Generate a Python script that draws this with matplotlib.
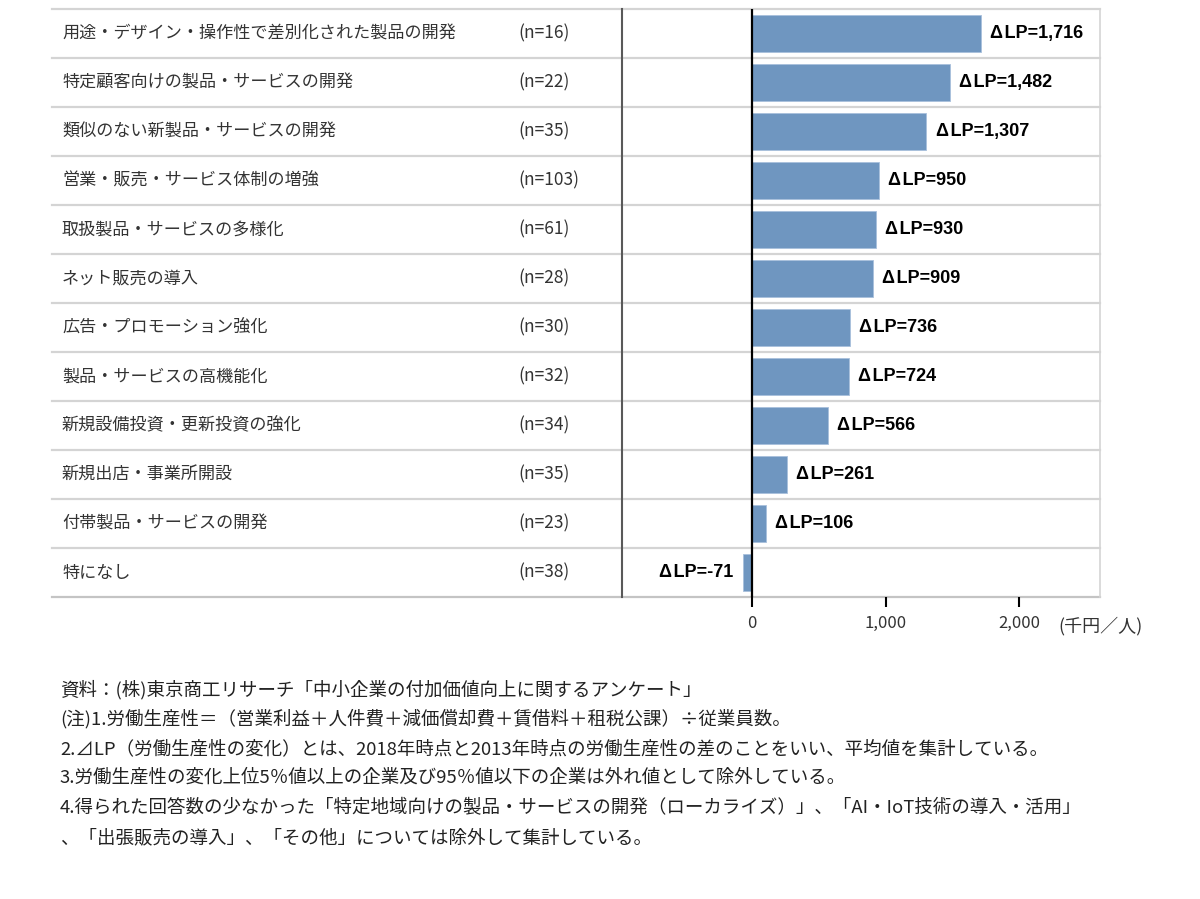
import matplotlib
matplotlib.use("Agg")
import matplotlib.pyplot as plt
import matplotlib.transforms as mtransforms

plt.rcParams['font.family'] = ['Noto Sans CJK JP', 'DejaVu Sans']

categories = [
    "用途・デザイン・操作性で差別化された製品の開発",
    "特定顧客向けの製品・サービスの開発",
    "類似のない新製品・サービスの開発",
    "営業・販売・サービス体制の増強",
    "取扱製品・サービスの多様化",
    "ネット販売の導入",
    "広告・プロモーション強化",
    "製品・サービスの高機能化",
    "新規設備投資・更新投資の強化",
    "新規出店・事業所開設",
    "付帯製品・サービスの開発",
    "特になし",
]
n_labels = ["(n=16)", "(n=22)", "(n=35)", "(n=103)", "(n=61)", "(n=28)",
            "(n=30)", "(n=32)", "(n=34)", "(n=35)", "(n=23)", "(n=38)"]
values = [1716, 1482, 1307, 950, 930, 909, 736, 724, 566, 261, 106, -71]
xticks = [0, 1000, 2000]
xtick_labels = ["0", "1,000", "2,000"]
unit_label = "(千円／人)"
notes = [
    "資料：(株)東京商工リサーチ「中小企業の付加価値向上に関するアンケート」",
    "(注)1.労働生産性＝（営業利益＋人件費＋減価償却費＋賃借料＋租税公課）÷従業員数。",
    "2.⊿LP（労働生産性の変化）とは、2018年時点と2013年時点の労働生産性の差のことをいい、平均値を集計している。",
    "3.労働生産性の変化上位5％値以上の企業及び95％値以下の企業は外れ値として除外している。",
    "4.得られた回答数の少なかった「特定地域向けの製品・サービスの開発（ローカライズ）」、「AI・IoT技術の導入・活用」",
    "、「出張販売の導入」、「その他」については除外して集計している。",
]

W, H = 1200, 899
fig = plt.figure(figsize=(W / 100, H / 100), dpi=100)
ax_left, ax_right, ax_top, ax_bot = 622, 1100, 9, 597
ax = fig.add_axes([ax_left / W, (H - ax_bot) / H, (ax_right - ax_left) / W, (ax_bot - ax_top) / H])

px_per_unit = 133.5 / 1000.0
xmin = (ax_left - 752) / px_per_unit
xmax = (ax_right - 752) / px_per_unit

ypos = list(range(len(categories)))
ax.barh(ypos, values, height=0.77, color='#6f96c0', edgecolor='#a8c0dc', linewidth=0.6, zorder=2)
ax.set_xlim(xmin, xmax)
ax.set_ylim(len(categories) - 0.5, -0.5)

for s in ['top', 'bottom']:
    ax.spines[s].set_visible(False)
ax.spines['left'].set_color('#595959')
ax.spines['left'].set_linewidth(1.5)
ax.spines['right'].set_color('#d4d4d4')
ax.spines['right'].set_linewidth(1.2)

ax.axvline(0, color='black', lw=1.6, zorder=3)
ax.set_yticks([])
ax.set_xticks(xticks)
ax.set_xticklabels(xtick_labels, fontsize=12, color='#333333')
ax.tick_params(axis='x', direction='out', length=7, width=1.5, color='black', pad=6)

blend = mtransforms.blended_transform_factory(fig.transFigure, ax.transData)
for i in range(len(categories) + 1):
    y = i - 0.5
    col = '#c4c4c4' if i == len(categories) else '#d4d4d4'
    ax.plot([52 / W, ax_right / W], [y, y], transform=blend, color=col, lw=1.6,
            clip_on=False, zorder=1)

for i, (c, n) in enumerate(zip(categories, n_labels)):
    ax.text(62 / W, i, c, transform=blend, va='center', ha='left', fontsize=12.3, color='#333333')
    ax.text(518 / W, i, n, transform=blend, va='center', ha='left', fontsize=12.5, color='#333333')

for i, v in enumerate(values):
    lab = "Δ\u200aLP=" + f"{v:,}"
    if v >= 0:
        ax.annotate(lab, (v, i), xytext=(6.5, 0), textcoords='offset points', va='center', ha='left',
                    fontsize=13, fontweight='bold', family=['Liberation Sans', 'DejaVu Sans'], color='black')
    else:
        ax.annotate(lab, (v, i), xytext=(-7, 0), textcoords='offset points', va='center', ha='right',
                    fontsize=13, fontweight='bold', family=['Liberation Sans', 'DejaVu Sans'], color='black')

fig.text(1058 / W, 1 - 626 / H, unit_label, fontsize=13, color='#333333', va='center', ha='left')

note_y = [690, 719, 749, 778, 808, 838]
for y, t in zip(note_y, notes):
    fig.text(60 / W, 1 - y / H, t, fontsize=13.3, color='#222222', va='center', ha='left')

fig.savefig("out.png", dpi=100)
